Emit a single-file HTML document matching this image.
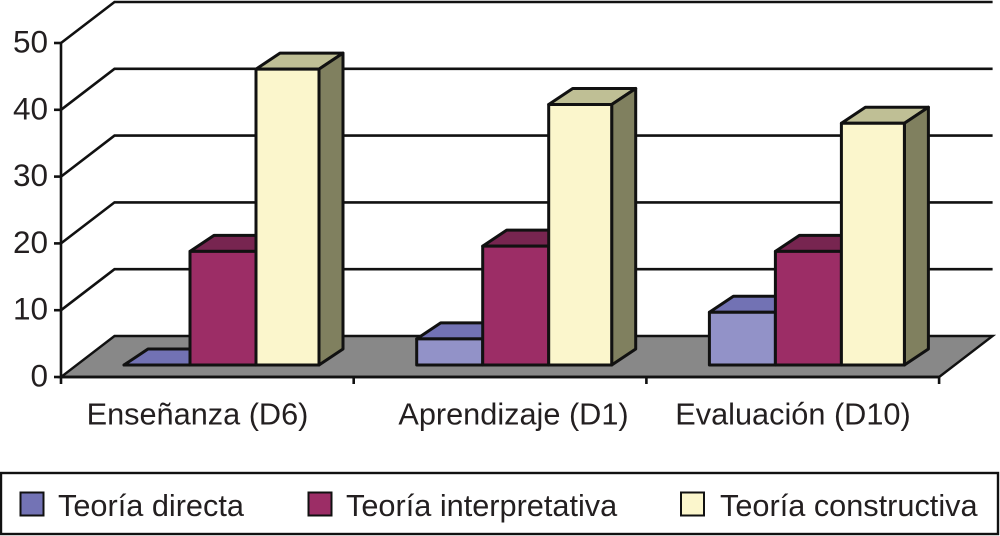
<!DOCTYPE html>
<html lang="es">
<head>
<meta charset="utf-8">
<title>Teorías por dimensión</title>
<style>
html,body{margin:0;padding:0;background:#fff;width:1000px;height:536px;overflow:hidden}
svg{display:block}
text{font-family:"Liberation Sans",sans-serif;fill:#231f20}
</style>
</head>
<body>
<svg id="chart" xmlns="http://www.w3.org/2000/svg" width="1000" height="536" viewBox="0 0 1000 536"></svg>
<script>
const categories = ['Enseñanza (D6)', 'Aprendizaje (D1)', 'Evaluación (D10)'];
const seriesNames = ['Teoría directa', 'Teoría interpretativa', 'Teoría constructiva'];
const directa = [0, 3.9, 7.9];
const interpretativa = [17, 17.8, 17];
const constructiva = [44.3, 39, 36.2];
const yTicks = [0, 10, 20, 30, 40, 50];

const allSeries = [directa, interpretativa, constructiva];
const svg = document.getElementById('chart');
const NS = 'http://www.w3.org/2000/svg';
const ink = '#111111';
const palette = [
  {front:'#9292c8', top:'#7272b4', side:'#5c5c90', swatch:'#7373b5'},
  {front:'#9c2d66', top:'#772550', side:'#6a2048', swatch:'#9c2d66'},
  {front:'#fbf6cc', top:'#bfbf95', side:'#80805f', swatch:'#fbf6cc'}
];
const x0 = 61, bandW = 292.7, yZero = 377, unit = 6.68, depthX = 53.5, depthY = 41;
const barBase = 365, barOffset = 63, barW = 66, barDX = 24, barDY = 16;
const xBand = i => x0 + i * bandW;
const yAxis = v => yZero - v * unit;
const yBar = v => barBase - v * unit;
const xBar = (g, s) => xBand(g) + barOffset + s * barW;

function make(tag, attrs, name, parent) {
  const el = document.createElementNS(NS, tag);
  for (const k in attrs) el.setAttribute(k, attrs[k]);
  
  
  (parent || svg).appendChild(el);
  return el;
}
const pts = a => a.map(p => p[0].toFixed(1) + ',' + p[1].toFixed(1)).join(' ');
const xEnd = xBand(categories.length);

// floor
make('polygon', {points: pts([[x0, yZero], [xEnd, yZero], [xEnd + depthX, yZero - depthY], [x0 + depthX, yZero - depthY]]), fill:'#888888', stroke:ink, 'stroke-width':2.4, 'stroke-linejoin':'miter'}, 'chart-floor');

// gridlines
yTicks.forEach(t => {
  if (t === 0) return;
  const y = yAxis(t);
  make('polyline', {points: pts([[x0, y], [x0 + depthX, y - depthY], [xEnd + depthX, y - depthY]]), fill:'none', stroke:ink, 'stroke-width':2.6}, 'gridline-' + t);
});

// axes
make('line', {x1:x0, y1:yAxis(yTicks[yTicks.length - 1]), x2:x0, y2:yZero + 7, stroke:ink, 'stroke-width':2.6}, 'y-axis-line');
make('line', {x1:x0, y1:yZero, x2:xEnd, y2:yZero, stroke:ink, 'stroke-width':2.8}, 'x-axis-line');
yTicks.forEach(t => {
  const y = yAxis(t);
  make('line', {x1:x0 - 7, y1:y, x2:x0, y2:y, stroke:ink, 'stroke-width':2.6}, 'y-tick-' + t);
  const lab = make('text', {x:x0 - 13, y:y + 9.5, 'text-anchor':'end', 'font-size':31.5}, 'y-tick-label-' + t);
  lab.textContent = t;
});
for (let i = 1; i <= categories.length; i++) {
  make('line', {x1:xBand(i), y1:yZero, x2:xBand(i), y2:yZero + 7, stroke:ink, 'stroke-width':2.6}, 'x-tick-' + i);
}

// bars
categories.forEach((c, g) => {
  allSeries.forEach((vals, s) => {
    const v = vals[g], xl = xBar(g, s), xr = xl + barW - (s === 2 ? 3 : 0), yt = yBar(v);
    const col = palette[s];
    const group = make('g', {}, 'bar-group-' + (g + 1) + '-series-' + (s + 1));
    make('polygon', {points: pts([[xl, yt], [xl + barDX, yt - barDY], [xr + barDX, yt - barDY], [xr, yt]]), fill:col.top, stroke:ink, 'stroke-width':3, 'stroke-linejoin':'round'}, 'bar-top', group);
    make('polygon', {points: pts([[xr, yt], [xr + barDX, yt - barDY], [xr + barDX, barBase - barDY], [xr, barBase]]), fill:col.side, stroke:ink, 'stroke-width':3, 'stroke-linejoin':'round'}, 'bar-side', group);
    make('polygon', {points: pts([[xl, yt], [xr, yt], [xr, barBase], [xl, barBase]]), fill:col.front, stroke:ink, 'stroke-width':3, 'stroke-linejoin':'round'}, 'bar-front', group);
  });
});

// category labels
const catX = [197.5, 513.5, 793];
categories.forEach((c, i) => {
  const t = make('text', {x:catX[i], y:424.5, 'text-anchor':'middle', 'font-size':30.7}, 'category-label-' + (i + 1));
  t.textContent = c;
});

// legend
make('rect', {x:1, y:473, width:997, height:61, fill:'#fff', stroke:ink, 'stroke-width':2.4}, 'legend-box');
const swatchX = [20.5, 308.5, 681];
const labelX = [58, 346, 720];
seriesNames.forEach((n, i) => {
  make('rect', {x:swatchX[i], y:492.5, width:23, height:23, fill:palette[i].swatch, stroke:ink, 'stroke-width':2}, 'legend-swatch-' + (i + 1));
  const t = make('text', {x:labelX[i], y:516, 'font-size':30.7}, 'legend-label-' + (i + 1));
  t.textContent = n;
});
</script>
</body>
</html>
